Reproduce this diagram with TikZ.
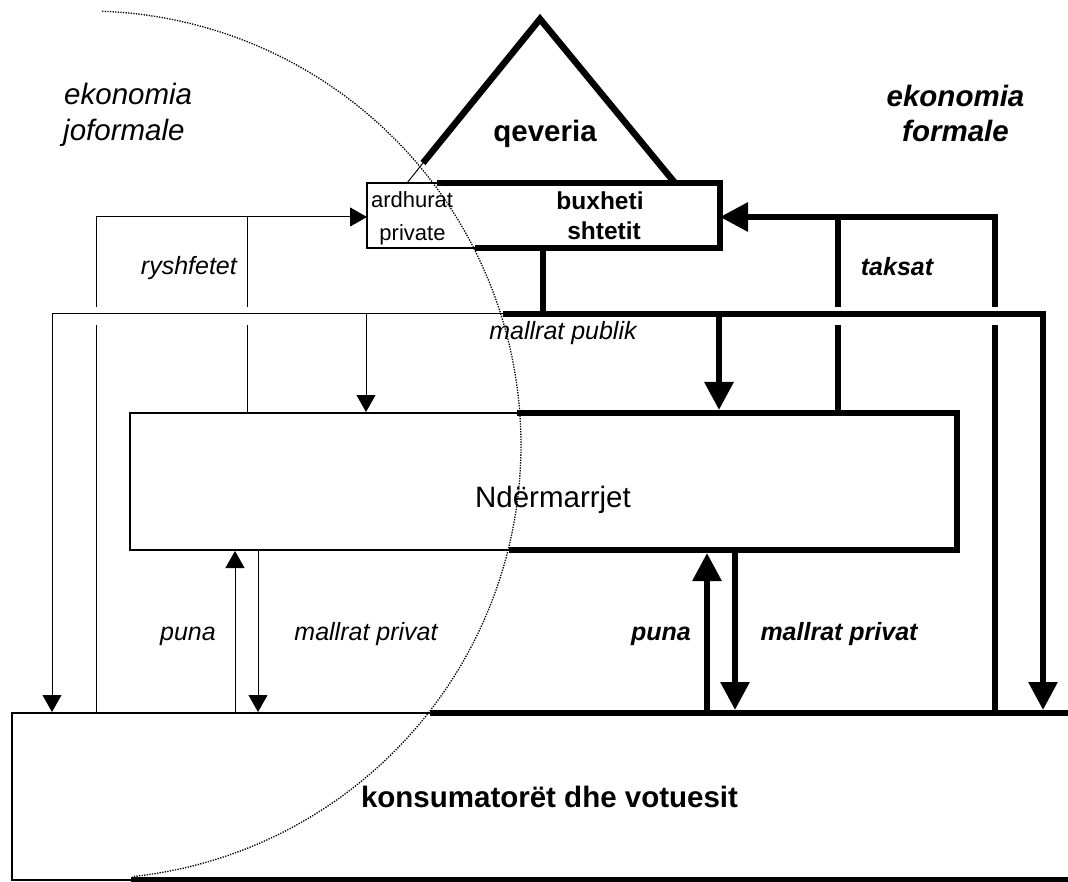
\documentclass[tikz,border=0pt]{standalone}
\usepackage{fontspec}
\setmainfont{Liberation Sans}
\usetikzlibrary{arrows.meta}
\begin{document}
\begin{tikzpicture}[x=1pt,y=-1pt,
  thinln/.style={line width=1pt},
  thinbox/.style={line width=2.5pt,line join=miter},
  thickln/.style={line width=6pt,line join=miter},
  thinarr/.style={thinln,-{Triangle[length=17pt,width=19pt]}},
  thickarr/.style={thickln,-{Triangle[length=28pt,width=28pt]}},
  boxnode/.style={draw=none,inner sep=0pt,outer sep=0pt},
  txt/.style={anchor=base,inner sep=0pt},
  it25/.style={txt,font=\fontsize{25}{30}\selectfont\itshape},
  bi25/.style={txt,font=\fontsize{25}{30}\selectfont\bfseries\itshape},
  it30/.style={txt,font=\fontsize{29.5}{36}\selectfont\itshape},
  bi30/.style={txt,font=\fontsize{29.5}{36}\selectfont\bfseries\itshape},
  b30/.style={txt,font=\fontsize{29.5}{36}\selectfont\bfseries},
  r30/.style={txt,font=\fontsize{29.5}{36}\selectfont},
  r22/.style={txt,font=\fontsize{22}{26}\selectfont},
  b24/.style={txt,font=\fontsize{24.5}{29}\selectfont\bfseries},
  circ/.style={line width=1.3pt,dash pattern=on 1.3pt off 1.3pt}
]
\useasboundingbox (0,0) rectangle (1068,882);

% ---------- box nodes (outlines drawn below, split thin/thick) ----------
\node[boxnode,minimum width=353pt,minimum height=65pt] (budget) at (543.5,215.5) {};
\node[boxnode,minimum width=827pt,minimum height=137pt] (firms) at (543.5,481.5) {};
\node[boxnode,minimum width=1056pt,minimum height=167pt] (cons) at (540,796.5) {};

% budget box outline
\draw[thinbox] (437,183) -- (budget.north west) -- (budget.south west) -- (475,248);
\draw[thickln] (437,183) -- (budget.north east) -- (budget.south east) -- (475,248);
% government triangle
\coordinate (apex) at (540,19);
\draw[thickln,line width=6.5pt] (423,163) -- (apex) -- (675,183);
\draw[thinln] (423,163) -- (407,183);

% firms box outline
\draw[thinbox] (517,413) -- (firms.north west) -- (firms.south west) -- (509,550);
\draw[thickln] (517,413) -- (firms.north east) -- (firms.south east) -- (509,550);

% consumers box outline
\draw[thinbox] (430,713) -- (cons.north west) -- (cons.south west) -- (131,880);
\draw[thickln] (430,713) -- (cons.north east);
\draw[thickln] (131,880) -- (cons.south east);

% ---------- bribes (thin) ----------
\draw[thinln] (96,0 |- cons.north) -- (96,325);
\draw[thinarr] (96,307) -- (96,217) -- (budget.west |- 0,217);
\draw[thinln] (247,0 |- firms.north) -- (247,325);
\draw[thinln] (247,307) -- (247,217);

% ---------- taxes (thick) ----------
\draw[thickln] (995,0 |- cons.north) -- (995,325);
\draw[thickarr] (995,307) -- (995,217) -- (budget.east |- 0,217);
\draw[thickln] (838,0 |- firms.north) -- (838,325);
\draw[thickln] (838,307) -- (838,217);

% ---------- public goods ----------
\coordinate (split) at (503,314);
\draw[thickln] (543,0 |- budget.south) -- (543,314);
\draw[thinarr] (split) -- (52,314) -- (52,712);
\draw[thickarr] (split) -- (1043,314) -- (1043,710);
\draw[thinarr] (366,314) -- (366,412);
\draw[thickarr] (719,314) -- (719,410);

% ---------- labour and private goods ----------
\draw[thinarr] (235,0 |- cons.north) -- (235,551);
\draw[thinarr] (258,0 |- firms.south) -- (258,712);
\draw[thickarr] (707,0 |- cons.north) -- (707,553);
\draw[thickarr] (735,0 |- firms.south) -- (735,710);

% ---------- texts ----------
\node[b30] at (545,142) {qeveria};
\node[r22] at (412,208) {ardhurat};
\node[r22] at (412.5,241) {private};
\node[b24] at (600,210) {buxheti};
\node[b24] at (604,240) {shtetit};
\node[it30,anchor=base west] at (64,105) {ekonomia};
\node[it30,anchor=base west] at (63,141) {joformale};
\node[bi30] at (955.5,107) {ekonomia};
\node[bi30] at (955.5,142) {formale};
\node[it25,anchor=base east] at (237,275) {ryshfetet};
\node[bi25] at (897,276) {taksat};
\node[it25] at (563,340) {mallrat publik};
\node[r30] at (553,507) {Ndërmarrjet};
\node[it25] at (188,640) {puna};
\node[it25] at (366,640) {mallrat privat};
\node[bi25] at (661,640) {puna};
\node[bi25] at (839,640) {mallrat privat};
\node[b30] at (549.5,807) {konsumatorët dhe votuesit};

% ---------- boundary of the informal economy ----------
\draw[circ] plot[domain=-88:84,samples=150] ({87+434*cos(\x)},{445+434*sin(\x)});
\end{tikzpicture}
\end{document}
